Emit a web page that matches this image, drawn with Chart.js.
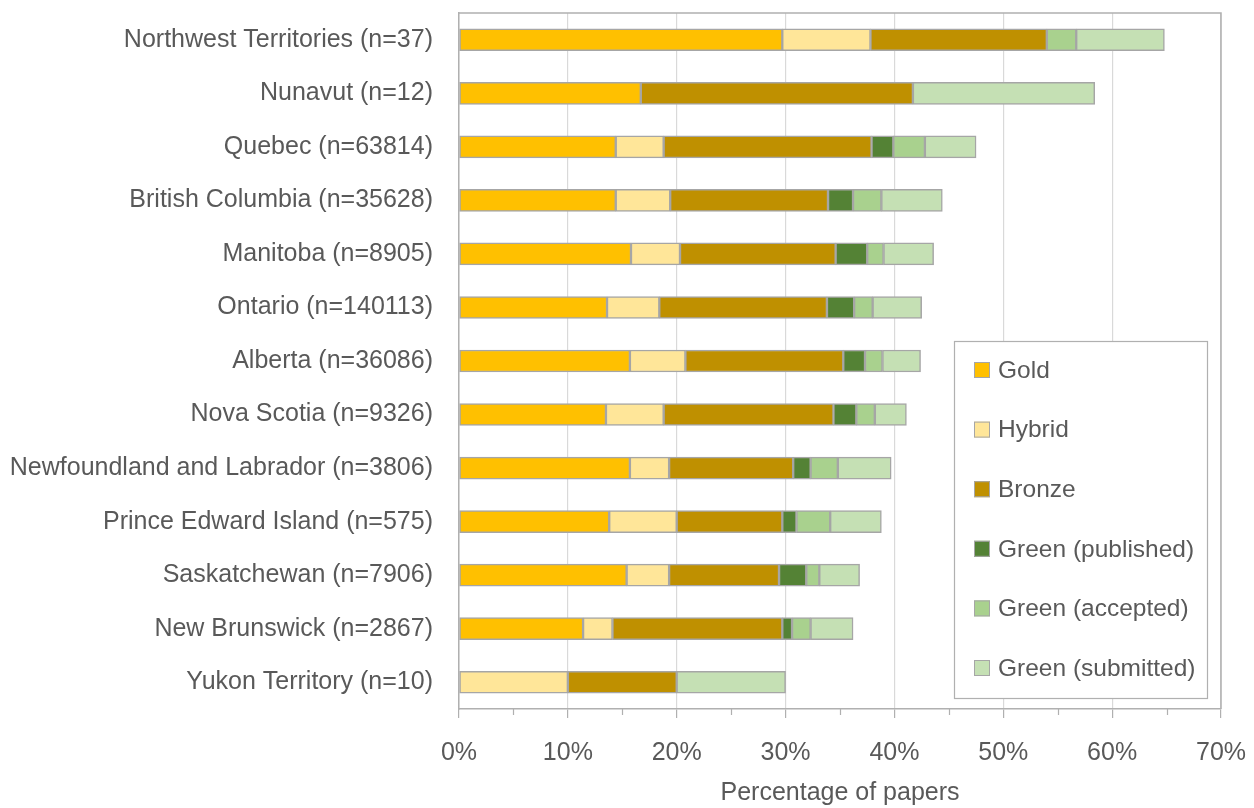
<!DOCTYPE html>
<html>
<head>
<meta charset="utf-8">
<script src="https://cdn.jsdelivr.net/npm/chart.js@4.4.1/dist/chart.umd.min.js"></script>
<style>
    html, body { margin: 0; padding: 0; background: #fff; }
    #wrap { width: 1254px; height: 808px; }
</style>
</head>
<body>
<div id="wrap"><canvas id="oaChart" width="1254" height="808"></canvas></div>
<script>
// provinces, top to bottom
const provinces = [
    'Northwest Territories (n=37)', 'Nunavut (n=12)', 'Quebec (n=63814)',
    'British Columbia (n=35628)', 'Manitoba (n=8905)', 'Ontario (n=140113)',
    'Alberta (n=36086)', 'Nova Scotia (n=9326)', 'Newfoundland and Labrador (n=3806)',
    'Prince Edward Island (n=575)', 'Saskatchewan (n=7906)', 'New Brunswick (n=2867)',
    'Yukon Territory (n=10)'
];

// % of papers per OA type (segment widths)
const gold      = [29.7, 16.7, 14.4, 14.4, 15.8, 13.6, 15.7, 13.5, 15.7, 13.8, 15.4, 11.4, 0];
const hybrid    = [8.1, 0, 4.4, 5.0, 4.5, 4.8, 5.1, 5.3, 3.6, 6.2, 3.9, 2.7, 10];
const bronze    = [16.2, 25.0, 19.1, 14.5, 14.3, 15.4, 14.5, 15.6, 11.4, 9.7, 10.1, 15.6, 10];
const greenPub  = [0, 0, 2.0, 2.3, 2.9, 2.5, 2.0, 2.1, 1.6, 1.3, 2.5, 0.9, 0];
const greenAcc  = [2.7, 0, 2.9, 2.6, 1.5, 1.7, 1.6, 1.7, 2.5, 3.1, 1.2, 1.7, 0];
const greenSub  = [8.1, 16.7, 4.7, 5.6, 4.6, 4.5, 3.5, 2.9, 4.9, 4.7, 3.7, 3.9, 10];

const xTicks = [0, 10, 20, 30, 40, 50, 60, 70];

const FONT = 'Liberation Sans, Arial, sans-serif';
const FSIZE = 25;
const TXT = '#595959';

function ds(label, data, color) {
    return {
        label: label,
        data: data,
        backgroundColor: color,
        borderColor: '#a6a6a6',
        borderWidth: 1.5,
        borderSkipped: false,
        barThickness: 22
    };
}

// frame round the plot + short minor ticks at 5%
const frameAndMinor = {
    id: 'frameAndMinor',
    afterDraw(chart) {
        const ctx = chart.ctx, a = chart.chartArea, x = chart.scales.x;
        ctx.save();
        ctx.strokeStyle = '#b0b0b0';
        ctx.lineWidth = 1.5;
        ctx.beginPath();
        ctx.moveTo(a.left, a.top); ctx.lineTo(a.right, a.top); ctx.lineTo(a.right, a.bottom);
        ctx.stroke();
        ctx.lineWidth = 1.2;
        for (let v = 5; v < 70; v += 10) {
            const px = Math.round(x.getPixelForValue(v)) + 0.5;
            ctx.beginPath();
            ctx.moveTo(px, a.bottom);
            ctx.lineTo(px, a.bottom + 6);
            ctx.stroke();
        }
        ctx.restore();
    }
};

// boxed legend inside the plot, bottom right
const boxLegend = {
    id: 'boxLegend',
    afterDraw(chart) {
        const ctx = chart.ctx, a = chart.chartArea;
        const w = 253, h = 357;
        const left = a.right - 14 - w, top = a.bottom - 11 - h;
        ctx.save();
        ctx.fillStyle = '#fff';
        ctx.fillRect(left, top, w, h);
        ctx.strokeStyle = '#b0b0b0';
        ctx.lineWidth = 1.2;
        ctx.strokeRect(left + 0.5, top + 0.5, w, h);
        ctx.font = '24.5px ' + FONT;
        ctx.textBaseline = 'middle';
        chart.data.datasets.forEach((d, i) => {
            const cy = top + 29 + i * 59.6;
            ctx.fillStyle = d.backgroundColor;
            ctx.fillRect(left + 20, cy - 8, 16, 16);
            ctx.strokeStyle = '#a6a6a6';
            ctx.lineWidth = 1;
            ctx.strokeRect(left + 20.5, cy - 7.5, 15, 15);
            ctx.fillStyle = TXT;
            ctx.fillText(d.label, left + 44, cy + 1);
        });
        ctx.restore();
    }
};

new Chart(document.getElementById('oaChart'), {
    type: 'bar',
    data: {
        labels: provinces,
        datasets: [
            ds('Gold', gold, '#ffc000'),
            ds('Hybrid', hybrid, '#ffe699'),
            ds('Bronze', bronze, '#bf9000'),
            ds('Green (published)', greenPub, '#548235'),
            ds('Green (accepted)', greenAcc, '#a9d18e'),
            ds('Green (submitted)', greenSub, '#c5e0b4')
        ]
    },
    options: {
        indexAxis: 'y',
        responsive: false,
        animation: false,
        layout: { padding: { top: 13, right: 33, left: 0, bottom: 0 } },
        plugins: {
            legend: { display: false },
            tooltip: { enabled: false }
        },
        scales: {
            x: {
                stacked: true,
                min: 0,
                max: 70,
                afterBuildTicks(scale) {
                    scale.ticks = xTicks.map(v => ({ value: v }));
                },
                afterFit(scale) {
                    scale.height = 99;
                    scale.paddingLeft = 0;
                    scale.paddingRight = 0;
                },
                grid: {
                    color: '#d9d9d9',
                    lineWidth: 1.2,
                    tickColor: '#b0b0b0',
                    tickLength: 9
                },
                border: { color: '#b0b0b0', width: 1.5 },
                ticks: {
                    color: TXT,
                    font: { family: FONT, size: FSIZE },
                    padding: 20,
                    callback: v => v + '%'
                },
                title: {
                    display: true,
                    text: 'Percentage of papers',
                    color: TXT,
                    font: { family: FONT, size: FSIZE },
                    padding: { top: 4, bottom: 0 }
                }
            },
            y: {
                stacked: true,
                afterFit(scale) {
                    scale.width = 459;
                    scale.paddingTop = 0;
                    scale.paddingBottom = 0;
                },
                grid: { display: false, drawTicks: false },
                border: { color: '#b0b0b0', width: 1.5 },
                ticks: {
                    color: TXT,
                    font: { family: FONT, size: FSIZE },
                    padding: 26
                }
            }
        }
    },
    plugins: [frameAndMinor, boxLegend]
});
</script>
</body>
</html>
